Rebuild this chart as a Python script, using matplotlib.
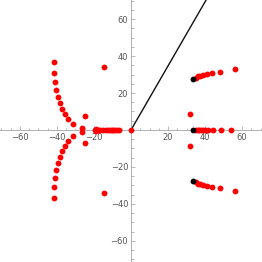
import matplotlib
matplotlib.use('Agg')
import matplotlib.pyplot as plt
from matplotlib.ticker import MultipleLocator

# red points (root locus samples)
red_x = [-41.5, -41.6, -41.2, -40.7, -39.6, -38.5, -37.3, -35.7, -33.8, -31.5, -26.6,
         -41.5, -41.6, -41.2, -40.7, -39.6, -38.5, -37.3, -35.7, -33.8, -31.5, -26.6,
         -24.9, -24.9, -14.4, -14.4, -18.9, -18.9,
         -19.5, -18.0, -16.5, -15.0, -13.5, -12.5, -11.5, -10.5, -9.5, -8.5, -7.5, -6.5, 0.0,
         31.9, 31.9,
         35.0, 36.0, 37.0, 38.0, 39.0, 40.0, 41.5, 44.5, 48.5, 54.0,
         35.0, 36.4, 37.5, 39.0, 40.9, 43.6, 48.3, 56.4,
         35.0, 36.4, 37.5, 39.0, 40.9, 43.6, 48.3, 56.4]
red_y = [36.9, 30.6, 25.8, 21.6, 17.8, 14.4, 11.4, 8.4, 5.7, 3.5, 1.0,
         -36.9, -30.6, -25.8, -21.6, -17.8, -14.4, -11.4, -8.4, -5.7, -3.5, -1.0,
         7.3, -7.3, 34.2, -34.2, 0.8, -0.8,
         0.0, 0.0, 0.0, 0.0, 0.0, 0.0, 0.0, 0.0, 0.0, 0.0, 0.0, 0.0, 0.0,
         8.5, -8.5,
         0.0, 0.0, 0.0, 0.0, 0.0, 0.0, 0.0, 0.0, 0.0, 0.0,
         28.3, 29.0, 29.4, 29.7, 30.3, 30.8, 31.5, 33.0,
         -28.3, -29.0, -29.4, -29.7, -30.3, -30.8, -31.5, -33.0]

# black points (poles)
black_x = [33.7, 33.7, 33.7]
black_y = [0.0, 27.6, -27.6]

# damping line at 60 degrees
line_x = [0, 50]
line_y = [0, 86.6]

fig = plt.figure(figsize=(2.62, 2.62), dpi=100)
ax = fig.add_axes([0, 0, 1, 1])

ax.plot(line_x, line_y, color='#111111', linewidth=1.0, zorder=2)
ax.plot(red_x, red_y, 'o', color='red', markersize=4.2, markeredgewidth=0, zorder=3)
ax.plot(black_x, black_y, 'o', color='black', markersize=4.2, markeredgewidth=0, zorder=4)

ax.set_xlim(-70.8, 70.8)
ax.set_ylim(-71.4, 70.3)

for s in ['top', 'right']:
    ax.spines[s].set_visible(False)
ax.spines['left'].set_position('zero')
ax.spines['bottom'].set_position('zero')
ax.spines['left'].set_color('#b0b0b0')
ax.spines['bottom'].set_color('#b0b0b0')
ax.spines['left'].set_linewidth(0.7)
ax.spines['bottom'].set_linewidth(0.7)

ax.xaxis.set_major_locator(MultipleLocator(20))
ax.xaxis.set_minor_locator(MultipleLocator(5))
ax.yaxis.set_major_locator(MultipleLocator(20))
ax.yaxis.set_minor_locator(MultipleLocator(5))
ax.set_xticks([-60, -40, -20, 20, 40, 60])
ax.set_yticks([-60, -40, -20, 20, 40, 60])
ax.tick_params(which='both', direction='in', color='#b0b0b0', width=0.6,
               labelsize=6, labelcolor='#555555', pad=2)
ax.tick_params(which='major', length=3)
ax.tick_params(which='minor', length=1.8)
ax.set_facecolor('white')

fig.savefig('out.png', dpi=100)
